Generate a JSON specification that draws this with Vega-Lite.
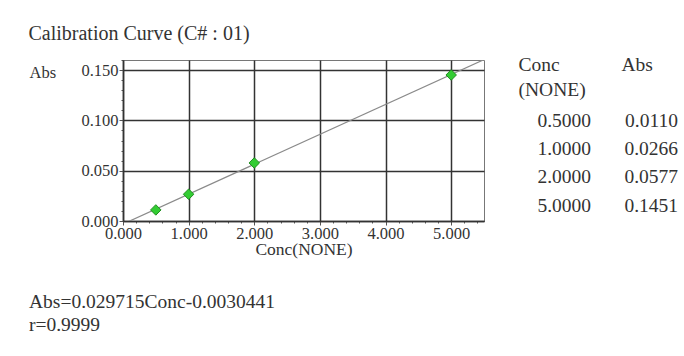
{
  "$schema": "https://vega.github.io/schema/vega-lite/v6.json",
  "background": "white",
  "padding": {"left": 28, "top": 23, "right": 0, "bottom": 0},
  "title": {"text": "Calibration Curve (C# : 01)", "anchor": "start", "frame": "bounds", "font": "Liberation Serif", "fontSize": 20, "fontWeight": "normal", "color": "#333333", "offset": 8},
  "datasets": {
    "cal": [
      {"Conc": 0.5, "Abs": 0.011},
      {"Conc": 1.0, "Abs": 0.0266},
      {"Conc": 2.0, "Abs": 0.0577},
      {"Conc": 5.0, "Abs": 0.1451}
    ]
  },
  "spacing": 33,
  "hconcat": [
    {
      "width": 361,
      "height": 161,
      "view": {"stroke": "#777777", "strokeWidth": 1},
      "title": {"text": ["Abs=0.029715Conc-0.0030441", "r=0.9999"], "orient": "bottom", "anchor": "start", "frame": "bounds", "offset": 35, "lineHeight": 23, "font": "Liberation Serif", "fontSize": 19.5, "fontWeight": "normal", "color": "#333333"},
      "data": {"name": "cal"},
      "encoding": {
        "x": {
          "field": "Conc", "type": "quantitative",
          "scale": {"domain": [0, 5.5], "nice": false, "zero": false},
          "axis": {
            "title": "Conc(NONE)",
            "titleFont": "Liberation Serif", "titleFontSize": 17.5, "titleFontWeight": "normal", "titleColor": "#333333", "titlePadding": -1,
            "values": [0, 0.2, 0.4, 0.6, 0.8, 1, 1.2, 1.4, 1.6, 1.8, 2, 2.2, 2.4, 2.6, 2.8, 3, 3.2, 3.4, 3.6, 3.8, 4, 4.2, 4.4, 4.6, 4.8, 5, 5.2, 5.4],
            "labelExpr": "round(datum.value*10) % 10 === 0 ? format(datum.value, '.3f') : ''",
            "labelFont": "Liberation Serif", "labelFontSize": 16.5, "labelColor": "#333333", "labelPadding": 0, "labelFlush": false, "labelOverlap": false,
            "domainColor": "#333333", "domainWidth": 1.5,
            "tickColor": "#555555",
            "tickSize": {"condition": {"test": "round(datum.value*10) % 10 !== 0", "value": 2}, "value": 4},
            "grid": true, "gridColor": "#333333", "gridWidth": 1.5,
            "gridOpacity": {"condition": {"test": "round(datum.value*10) % 10 !== 0", "value": 0}, "value": 1}
          }
        },
        "y": {
          "field": "Abs", "type": "quantitative",
          "scale": {"domain": [0, 0.16], "nice": false, "zero": false},
          "axis": {
            "title": "Abs", "titleAngle": 0, "titleX": -94, "titleY": 12, "titleAlign": "left", "titleBaseline": "middle",
            "titleFont": "Liberation Serif", "titleFontSize": 16.5, "titleFontWeight": "normal", "titleColor": "#333333",
            "values": [0, 0.01, 0.02, 0.03, 0.04, 0.05, 0.06, 0.07, 0.08, 0.09, 0.1, 0.11, 0.12, 0.13, 0.14, 0.15, 0.16],
            "labelExpr": "round(datum.value*1000) % 50 === 0 ? format(datum.value, '.3f') : ''",
            "labelFont": "Liberation Serif", "labelFontSize": 16.5, "labelColor": "#333333", "labelPadding": 1, "labelFlush": false, "labelOverlap": false,
            "domainColor": "#333333", "domainWidth": 1.5,
            "tickColor": "#555555",
            "tickSize": {"condition": {"test": "round(datum.value*1000) % 50 !== 0", "value": 2}, "value": 4},
            "grid": true, "gridColor": "#333333", "gridWidth": 1.5,
            "gridOpacity": {"condition": {"test": "round(datum.value*1000) % 50 !== 0", "value": 0}, "value": 1}
          }
        }
      },
      "layer": [
        {
          "transform": [{"regression": "Abs", "on": "Conc", "method": "linear", "extent": [0, 5.5]}],
          "mark": {"type": "line", "color": "#8a8a8a", "strokeWidth": 1.2, "clip": true}
        },
        {
          "mark": {"type": "point", "shape": "diamond", "filled": true, "fill": "#33cc33", "stroke": "#1f8f1f", "strokeWidth": 1, "size": 110, "opacity": 1}
        }
      ]
    },
    {
      "width": 87,
      "height": 85,
      "view": {"stroke": null},
      "data": {"name": "cal"},
      "transform": [{"fold": ["Conc", "Abs"], "as": ["col", "val"]}],
      "mark": {"type": "text", "align": "right", "baseline": "middle", "dy": 60.5, "font": "Liberation Serif", "fontSize": 19.5, "color": "#333333"},
      "encoding": {
        "x": {
          "field": "col", "type": "nominal",
          "scale": {"type": "point", "domain": ["Conc", "Abs"], "padding": 0},
          "axis": {
            "orient": "top", "title": null, "domain": false, "ticks": false, "labelAngle": 0,
            "labelAlign": "left", "labelBaseline": "top", "labelPadding": 4.5, "labelLineHeight": 25,
            "labelOffset": {"condition": {"test": "datum.value === 'Conc'", "value": -73}, "value": -57},
            "labelExpr": "datum.value === 'Conc' ? ['Conc', '(NONE)'] : 'Abs'",
            "labelFont": "Liberation Serif", "labelFontSize": 19.5, "labelColor": "#333333", "labelFlush": false, "labelOverlap": false
          }
        },
        "y": {
          "field": "Conc", "type": "ordinal",
          "scale": {"type": "point", "padding": 0},
          "axis": null
        },
        "text": {"field": "val", "type": "quantitative", "format": ".4f"}
      }
    }
  ]
}
